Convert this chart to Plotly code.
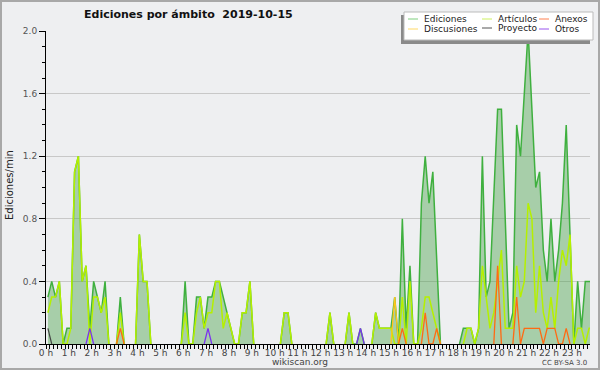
import plotly.graph_objects as go

# 10-minute bins (144 per day), values in edits/min
ediciones = [0.3,0.4,0.3,0.4,0,0.1,0.1,1.1,1.2,0.4,0.5,0.1,0.4,0.3,0.2,0.4,0,0,0,0.3,0,0,0,0,
             0.7,0.4,0.4,0,0,0,0,0,0,0,0,0,0.4,0,0,0.3,0.3,0.1,0.3,0.3,0.4,0.4,0.3,0.2,
             0.1,0,0,0.2,0.2,0.4,0,0,0,0,0,0,0,0,0.2,0.2,0,0,0,0,0,0,0,0,0,0,
             0.2,0,0,0,0,0.2,0,0,0.1,0,0,0,0.2,0.1,0.1,0.1,0.1,0.3,0,0.8,0.1,0.5,0,0,
             0.9,1.2,0.9,1.1,0.5,0,0,0,0,0,0,0.1,0.1,0.1,0,0.1,1.2,0.3,0.4,1.0,1.5,1.5,
             0.8,0.1,0.2,1.4,1.2,1.6,2.0,1.5,1.0,1.1,0.6,0.4,0.8,0.4,0.6,0.9,1.4,0.7,0,0.4,0.1,0.4,0.4,0.4]
articulos = [0.2,0.3,0.3,0.4,0,0,0.1,1.1,1.2,0.4,0.5,0,0.3,0.3,0.2,0.3,0,0,0,0.2,0,0,0,0,
             0.7,0.4,0.4,0,0,0,0,0,0,0,0,0,0.2,0,0,0.2,0.3,0.1,0.2,0.2,0.4,0.4,0.1,0.2,
             0.1,0,0,0.2,0.2,0.4,0,0,0,0,0,0,0,0,0.2,0.2,0,0,0,0,0,0,0,0,0,0,
             0.2,0,0,0,0,0.2,0,0,0,0,0,0,0.2,0.1,0.1,0.1,0.1,0,0,0.3,0,0.4,0,0,
             0.1,0.3,0.3,0.2,0.1,0,0,0,0,0,0,0,0.1,0.1,0,0.1,0.5,0.3,0.1,0.2,0.4,0.6,
             0.1,0.1,0.1,0.5,0.3,0.4,0.9,0.8,0.2,0.5,0.2,0.1,0.3,0.1,0.4,0.6,0.5,0.7,0,0.1,0.1,0,0.1,0.1]
discusiones = [0]*144
discusiones[91] = 0.3
proyecto = [0]*144
proyecto[0] = 0.1
anexos = [0]*144
for i, v in [(19,0.1),(93,0.1),(99,0.2),(102,0.1),(118,0.5),(123,0.3),(125,0.1),(126,0.1),
             (127,0.1),(128,0.1),(129,0.1),(131,0.1),(132,0.1),(133,0.1),(136,0.1)]:
    anexos[i] = v
otros = [0]*144
for i in (11, 42, 82):
    otros[i] = 0.1

hours = [(i + 0.5) / 6 for i in range(144)]

def mask(s):
    n = len(s)
    out = []
    for i, v in enumerate(s):
        if v == 0 and (i == 0 or s[i-1] == 0) and (i == n-1 or s[i+1] == 0):
            out.append(None)
        else:
            out.append(v)
    return out

FONT = "DejaVu Sans"
BG = "#eeeff1"
fig = go.Figure()
fig.add_trace(go.Scatter(x=hours, y=mask(ediciones), mode="lines", fill="tozeroy",
                         fillcolor="rgba(70,160,70,0.42)", line=dict(color="#3fb03f", width=1.5),
                         name="Ediciones"))
series = [("Artículos", articulos, "#b5f000", 1.5),
          ("Discusiones", discusiones, "#ffc61a", 1.3),
          ("Proyecto", proyecto, "#444444", 1.2),
          ("Anexos", anexos, "#ff6a13", 1.3),
          ("Otros", otros, "#7a33ee", 1.3)]
for name, s, c, w in series:
    fig.add_trace(go.Scatter(x=hours, y=mask(s), mode="lines", line=dict(color=c, width=w), name=name))

L, R, T, B = 46, 10, 31, 26
PW, PH = 600 - L - R, 370 - T - B
def px(x): return (x - L) / PW
def py(y): return (370 - B - y) / PH

shapes = []
annotations = []
# outer frame
shapes.append(dict(type="rect", xref="paper", yref="paper", x0=px(1), x1=px(599), y0=py(369), y1=py(1),
                   line=dict(color="#a8a8a8", width=2), fillcolor="rgba(0,0,0,0)", layer="above"))
# legend box with shadow
shapes.append(dict(type="rect", xref="paper", yref="paper", x0=px(401), x1=px(590), y0=py(44), y1=py(15),
                   line=dict(width=0), fillcolor="#8a8a8a", layer="above"))
shapes.append(dict(type="rect", xref="paper", yref="paper", x0=px(404), x1=px(593), y0=py(40), y1=py(12),
                   line=dict(color="#bbbbbb", width=1), fillcolor="white", layer="above"))
leg = [("Ediciones", "#7fcf7f", 408, 19), ("Artículos", "#cdf060", 482, 19), ("Anexos", "#ff8050", 539, 19),
       ("Discusiones", "#ffd966", 408, 29), ("Proyecto", "#555555", 482, 28), ("Otros", "#9955ee", 539, 29)]
for name, c, x, y in leg:
    shapes.append(dict(type="line", xref="paper", yref="paper", x0=px(x), x1=px(x + 10), y0=py(y), y1=py(y),
                       line=dict(color=c, width=1), layer="above"))
    annotations.append(dict(text=name, xref="paper", yref="paper", x=px(x + 14), y=py(y), xanchor="left",
                            yanchor="middle", showarrow=False, font=dict(family=FONT, size=9, color="#222")))

annotations.append(dict(text="<b>Ediciones por ámbito\u00a0\u00a02019-10-15</b>", xref="paper", yref="paper",
                        x=px(188), y=py(14), xanchor="center", yanchor="middle", showarrow=False,
                        font=dict(family=FONT, size=11, color="#111")))
annotations.append(dict(text="Ediciones/min", xref="paper", yref="paper", x=px(10), y=py(185),
                        textangle=-90, xanchor="center", yanchor="middle", showarrow=False,
                        font=dict(family=FONT, size=10, color="#222")))
annotations.append(dict(text="wikiscan.org", xref="paper", yref="paper", x=px(300), y=py(362),
                        xanchor="center", yanchor="middle", showarrow=False,
                        font=dict(family=FONT, size=9, color="#444")))
annotations.append(dict(text="CC BY-SA 3.0", xref="paper", yref="paper", x=px(589), y=py(363),
                        xanchor="right", yanchor="middle", showarrow=False,
                        font=dict(family=FONT, size=7, color="#444")))

fig.update_layout(
    width=600, height=370, margin=dict(l=L, r=R, t=T, b=B),
    paper_bgcolor=BG, plot_bgcolor=BG, showlegend=False,
    font=dict(family=FONT, size=9, color="#444"),
    shapes=shapes, annotations=annotations,
    xaxis=dict(range=[0, 23.79], tick0=0, dtick=1, ticksuffix=" h", ticks="outside", ticklen=4,
               tickcolor="black", showline=True, linecolor="black", linewidth=1, showgrid=False,
               zeroline=False, tickfont=dict(size=9, color="#444"), fixedrange=True, ticklabelstandoff=-4,
               minor=dict(tick0=0, dtick=1/6, ticks="outside", ticklen=4, tickcolor="black", showgrid=False)),
    yaxis=dict(range=[0, 2.0005], tick0=0, dtick=0.4, tickformat=".1f", ticks="outside", ticklen=6,
               tickcolor="black", showline=True, linecolor="black", linewidth=1, showgrid=True,
               gridcolor="#c8c8c8", zeroline=False, tickfont=dict(size=9, color="#555"), fixedrange=True,
               minor=dict(tick0=0, dtick=0.1, ticks="outside", ticklen=3, tickcolor="black", showgrid=False)),
)
fig.write_html("out.html", config={"displayModeBar": False},
               post_script="document.body.style.margin='0';document.body.style.overflow='hidden';")
